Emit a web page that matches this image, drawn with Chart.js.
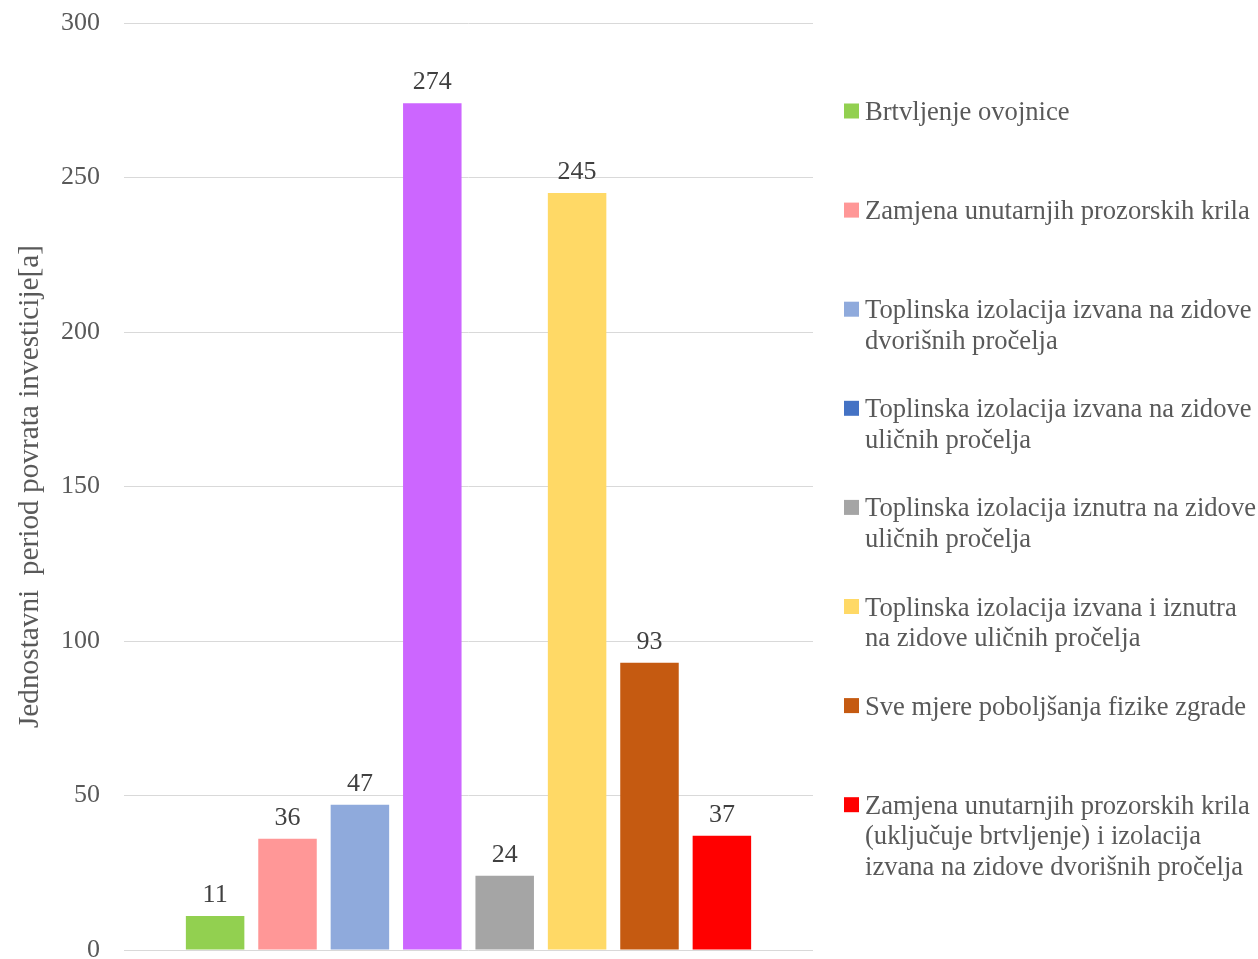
<!DOCTYPE html>
<html>
<head>
<meta charset="utf-8">
<script src="https://cdn.jsdelivr.net/npm/chart.js@4.4.0/dist/chart.umd.min.js"></script>
<style>
html,body{margin:0;padding:0;background:#ffffff;}
#wrap{width:1258px;height:959px;position:relative;}
</style>
</head>
<body>
<div id="wrap"><canvas id="c" width="1258" height="959"></canvas></div>
<script>
// ---- data ----
const categories = [''];
const seriesLabels = [
  ['Brtvljenje ovojnice'],
  ['Zamjena unutarnjih prozorskih krila'],
  ['Toplinska izolacija izvana na zidove', 'dvorišnih pročelja'],
  ['Toplinska izolacija izvana na zidove', 'uličnih pročelja'],
  ['Toplinska izolacija iznutra na zidove', 'uličnih pročelja'],
  ['Toplinska izolacija izvana i iznutra', 'na zidove uličnih pročelja'],
  ['Sve mjere poboljšanja fizike zgrade'],
  ['Zamjena unutarnjih prozorskih krila', '(uključuje brtvljenje) i izolacija', 'izvana na zidove dvorišnih pročelja']
];
const seriesValues = [11, 36, 47, 274, 24, 245, 93, 37];
const barColors = ['#92D050', '#FF9797', '#8FAADC', '#CC66FF', '#A5A5A5', '#FFD966', '#C55A11', '#FF0000'];
const legendColors = ['#92D050', '#FF9797', '#8FAADC', '#4472C4', '#A5A5A5', '#FFD966', '#C55A11', '#FF0000'];
const yTickValues = [0, 50, 100, 150, 200, 250, 300];
const yTitle = 'Jednostavni  period povrata investicije[a]';

// ---- styling ----
const SERIF = '"Liberation Serif", "Times New Roman", "DejaVu Serif", serif';
const FONT_SIZE = 26;
const LEGEND_FONT_SIZE = 26.6;

const datasets = seriesValues.map((v, i) => ({
  label: seriesLabels[i].join(' '),
  data: [v],
  backgroundColor: barColors[i],
  borderWidth: 0,
  categoryPercentage: 0.8406,
  barPercentage: 0.808
}));

const valueLabels = {
  id: 'valueLabels',
  afterDatasetsDraw(chart) {
    const ctx = chart.ctx;
    ctx.save();
    ctx.font = FONT_SIZE + 'px ' + SERIF;
    ctx.fillStyle = '#404040';
    ctx.textAlign = 'center';
    ctx.textBaseline = 'alphabetic';
    chart.data.datasets.forEach((ds, i) => {
      const meta = chart.getDatasetMeta(i);
      meta.data.forEach((el, j) => {
        ctx.fillText(String(ds.data[j]), el.x, el.y - 14);
      });
    });
    ctx.restore();
  }
};

const sideLegend = {
  id: 'sideLegend',
  afterDraw(chart) {
    const ctx = chart.ctx;
    ctx.save();
    ctx.font = LEGEND_FONT_SIZE + 'px ' + SERIF;
    ctx.textAlign = 'left';
    ctx.textBaseline = 'alphabetic';
    const boxX = 844, boxSize = 15, textX = 865;
    const firstCenter = 111, itemStep = 99.1, lineStep = 30.5;
    seriesLabels.forEach((lines, i) => {
      const cy = firstCenter + i * itemStep;
      ctx.fillStyle = legendColors[i];
      ctx.fillRect(boxX, cy - boxSize / 2, boxSize, boxSize);
      ctx.fillStyle = '#595959';
      lines.forEach((ln, k) => {
        ctx.fillText(ln, textX, cy + 9 + k * lineStep);
      });
    });
    ctx.restore();
  }
};

new Chart(document.getElementById('c'), {
  type: 'bar',
  data: { labels: categories, datasets: datasets },
  options: {
    responsive: false,
    animation: false,
    devicePixelRatio: 1,
    layout: { padding: { top: 23, bottom: 9, left: 0, right: 445 } },
    plugins: {
      legend: { display: false },
      tooltip: { enabled: false }
    },
    scales: {
      x: {
        display: false,
        grid: { display: false }
      },
      y: {
        min: 0,
        max: 300,
        afterBuildTicks(scale) {
          scale.ticks = yTickValues.map(v => ({ value: v }));
        },
        afterFit(scale) {
          scale.width = 124;
          scale.paddingTop = 0;
          scale.paddingBottom = 0;
        },
        border: { display: false },
        grid: { color: '#D9D9D9', lineWidth: 1, drawTicks: false },
        ticks: {
          padding: 24,
          color: '#595959',
          font: { family: SERIF, size: FONT_SIZE }
        },
        title: {
          display: true,
          text: yTitle,
          color: '#595959',
          font: { family: SERIF, size: 29.3 },
          padding: { top: 13, bottom: 0 }
        }
      }
    }
  },
  plugins: [valueLabels, sideLegend]
});
</script>
</body>
</html>
